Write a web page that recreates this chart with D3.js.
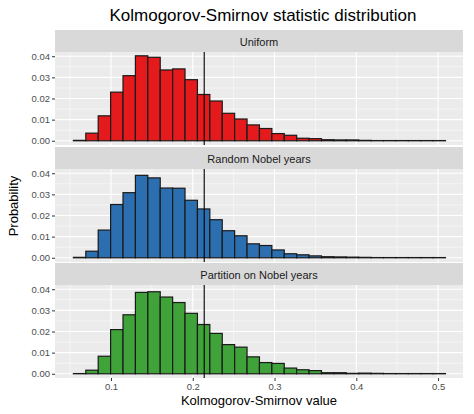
<!DOCTYPE html>
<html><head><meta charset="utf-8">
<script src="https://cdn.jsdelivr.net/npm/d3@7"></script>
<style>body{margin:0;background:#fff}text{font-family:"Liberation Sans",Arial,sans-serif}</style>
</head><body><svg id="c" width="474" height="414"></svg>
<script>
var panels = ["Uniform", "Random Nobel years", "Partition on Nobel years"]
var colors = ["#e41a1c", "#2c6fb0", "#3fa33a"]
var binStart = 0.054, binWidth = 0.01517
var uniform = [0.0002,0.0036,0.0118,0.023,0.0308,0.0402,0.0395,0.0335,0.034,0.0289,0.0219,0.0188,0.013,0.0103,0.0075,0.0058,0.0034,0.0026,0.0012,0.001,0.0005,0.0004,0.0004,0.0002,0.0001,0.0001,0.0001,0.0001,0.0001,0.0001]
var randomYears = [0.0002,0.0031,0.0131,0.0252,0.0308,0.039,0.0378,0.033,0.0329,0.0272,0.0231,0.018,0.0128,0.0104,0.0066,0.0058,0.0037,0.0019,0.0014,0.0009,0.0005,0.0004,0.0003,0.0002,0.0001,0.0001,0.0001,0.0001,0.0001,0.0001]
var partition = [0.0001,0.0017,0.0083,0.0209,0.0279,0.0385,0.0388,0.0363,0.0337,0.0286,0.0233,0.0191,0.0138,0.0126,0.008,0.0053,0.0049,0.0027,0.0019,0.0015,0.0005,0.0005,0.0002,0.0003,0.0002,0.0001,0.0001,0.0001,0.0001,0.0001]
var series = [uniform, randomYears, partition]
var observed = 0.214
var xTicks = [0.1, 0.2, 0.3, 0.4, 0.5]
var yTicks = [0, 0.01, 0.02, 0.03, 0.04]

var svg = d3.select('#c')
var left = 55, right = 463
var x = d3.scaleLinear().domain([0.0315, 0.5305]).range([left, right])
var tops = [30, 147, 263], stripH = 22, panelH = 93

svg.append('text').attr('x', 263).attr('y', 21).attr('text-anchor', 'middle')
    .attr('font-size', 17).attr('fill', '#000').text('Kolmogorov-Smirnov statistic distribution')

series.forEach(function(vals, p) {
    var t = tops[p]
    var g = svg.append('g')
    g.append('rect').attr('x', left).attr('y', t).attr('width', right - left).attr('height', stripH).attr('fill', '#d9d9d9')
    g.append('text').attr('x', (left + right) / 2).attr('y', t + 15.5).attr('text-anchor', 'middle')
        .attr('font-size', 11).attr('fill', '#1a1a1a').text(panels[p])
    var py = t + stripH
    var y = d3.scaleLinear().domain([-0.002, 0.042]).range([py + panelH, py])
    g.append('rect').attr('x', left).attr('y', py).attr('width', right - left).attr('height', panelH).attr('fill', '#ebebeb')
    // minor grid
    var minorX = d3.range(0.05, 0.55, 0.1), minorY = d3.range(0.005, 0.04, 0.01)
    g.selectAll('.mx').data(minorX).enter().append('line')
        .attr('x1', x).attr('x2', x).attr('y1', py).attr('y2', py + panelH).attr('stroke', '#fff').attr('stroke-width', 0.5)
    g.selectAll('.my').data(minorY).enter().append('line')
        .attr('x1', left).attr('x2', right).attr('y1', y).attr('y2', y).attr('stroke', '#fff').attr('stroke-width', 0.5)
    g.selectAll('.gx').data(xTicks).enter().append('line')
        .attr('x1', x).attr('x2', x).attr('y1', py).attr('y2', py + panelH).attr('stroke', '#fff').attr('stroke-width', 1.1)
    g.selectAll('.gy').data(yTicks).enter().append('line')
        .attr('x1', left).attr('x2', right).attr('y1', y).attr('y2', y).attr('stroke', '#fff').attr('stroke-width', 1.1)
    g.selectAll('rect.bar').data(vals).enter().append('rect').attr('class', 'bar')
        .attr('x', function(d, i) { return x(binStart + i * binWidth) })
        .attr('width', x(binWidth) - x(0))
        .attr('y', function(d) { return y(d) })
        .attr('height', function(d) { return y(0) - y(d) })
        .attr('fill', colors[p]).attr('stroke', '#1a1a1a').attr('stroke-width', 1.2)
    g.append('line').attr('x1', x(observed)).attr('x2', x(observed)).attr('y1', py).attr('y2', py + panelH)
        .attr('stroke', '#000').attr('stroke-width', 1.1)
    var ya = g.append('g').attr('transform', 'translate(' + left + ',0)')
        .call(d3.axisLeft(y).tickValues(yTicks).tickFormat(d3.format('.2f')).tickSize(3).tickPadding(2))
    ya.select('.domain').remove()
    ya.selectAll('line').attr('stroke', '#333')
    ya.selectAll('text').attr('font-size', 9.5).attr('fill', '#4d4d4d')
})

var xa = svg.append('g').attr('transform', 'translate(0,' + (tops[2] + stripH + panelH) + ')')
    .call(d3.axisBottom(x).tickValues(xTicks).tickFormat(d3.format('.1f')).tickSize(3).tickPadding(2))
xa.select('.domain').remove()
xa.selectAll('line').attr('stroke', '#333')
xa.selectAll('text').attr('font-size', 9.5).attr('fill', '#4d4d4d')

svg.append('text').attr('x', (left + right) / 2).attr('y', 405).attr('text-anchor', 'middle')
    .attr('font-size', 13).attr('fill', '#000').text('Kolmogorov-Smirnov value')
svg.append('text').attr('transform', 'translate(18,' + 206 + ') rotate(-90)').attr('text-anchor', 'middle')
    .attr('font-size', 13).attr('fill', '#000').text('Probability')
</script></body></html>
